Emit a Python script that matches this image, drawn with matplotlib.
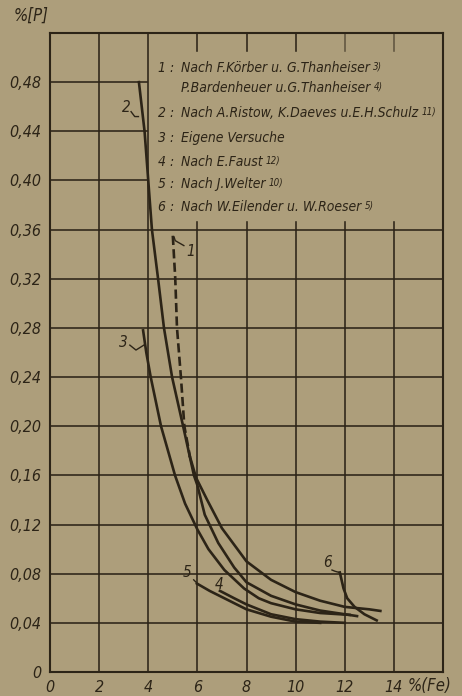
import matplotlib
matplotlib.use("Agg")
import matplotlib.pyplot as plt
from matplotlib import font_manager

# curves: % Fe (x) against % P (y)
c1_fe = [5.0, 5.1, 5.17, 5.33, 5.47, 5.7, 5.95, 6.4, 7.0, 8.0, 9.0, 10.0, 11.0, 12.0, 13.0, 13.45]
c1_p = [0.355, 0.32, 0.28, 0.24, 0.20, 0.175, 0.158, 0.14, 0.117, 0.090, 0.075, 0.065, 0.058, 0.053, 0.051, 0.0497]
c1_dashed_until = 6  # first points drawn dashed, rest solid

c2_fe = [3.62, 3.85, 4.0, 4.15, 4.4, 4.64, 4.97, 5.42, 5.86, 6.0, 6.3, 6.85, 7.5, 8.0, 9.0, 10.0, 11.0, 12.0, 12.5]
c2_p = [0.48, 0.44, 0.40, 0.36, 0.32, 0.28, 0.24, 0.20, 0.16, 0.152, 0.128, 0.105, 0.085, 0.073, 0.062, 0.055, 0.050, 0.047, 0.0455]

c3_fe = [3.79, 3.92, 4.1, 4.52, 5.09, 5.5, 6.0, 6.45, 7.1, 7.9, 8.5, 9.0, 10.0, 11.0, 12.2]
c3_p = [0.278, 0.26, 0.24, 0.20, 0.16, 0.137, 0.116, 0.100, 0.083, 0.068, 0.060, 0.056, 0.051, 0.048, 0.0465]

c4_fe = [6.92, 7.5, 8.0, 9.0, 10.0, 11.0, 12.0]
c4_p = [0.066, 0.060, 0.055, 0.047, 0.043, 0.041, 0.040]

c5_fe = [5.98, 6.5, 7.0, 8.0, 9.0, 10.0, 11.0]
c5_p = [0.072, 0.066, 0.061, 0.051, 0.045, 0.041, 0.040]

c6_fe = [11.8, 11.95, 12.1, 12.4, 12.8, 13.3]
c6_p = [0.081, 0.068, 0.060, 0.053, 0.047, 0.042]

x_ticks = [0, 2, 4, 6, 8, 10, 12, 14]
y_ticks = [0, 0.04, 0.08, 0.12, 0.16, 0.20, 0.24, 0.28, 0.32, 0.36, 0.40, 0.44, 0.48]
y_labels = ["0", "0,04", "0,08", "0,12", "0,16", "0,20", "0,24", "0,28", "0,32", "0,36", "0,40", "0,44", "0,48"]

legend_nums = ["1 :", "", "2 :", "3 :", "4 :", "5 :", "6 :"]
legend_texts = ["Nach F.Körber u. G.Thanheiser", "P.Bardenheuer u.G.Thanheiser",
                "Nach A.Ristow, K.Daeves u.E.H.Schulz", "Eigene Versuche",
                "Nach E.Faust", "Nach J.Welter", "Nach W.Eilender u. W.Roeser"]
legend_refs = ["3)", "4)", "11)", "", "12)", "10)", "5)"]

BG = "#ad9e7b"
INK = "#2c2417"

names = {f.name for f in font_manager.fontManager.ttflist}
if "Liberation Sans Narrow" in names:
    FONT = dict(family="Liberation Sans Narrow", style="italic")
else:
    FONT = dict(family="DejaVu Sans", style="italic", stretch="condensed")

fig = plt.figure(figsize=(4.62, 6.96), dpi=100, facecolor=BG)
ax = fig.add_axes([50 / 462, 24 / 696, 393 / 462, 639 / 696])
ax.set_facecolor(BG)
ax.set_xlim(0, 16)
ax.set_ylim(0, 0.52)

# grid, kept clear of the legend area at upper right
glw = 1.15
for y in y_ticks[1:]:
    if y <= 0.36:
        ax.axhline(y, color=INK, lw=glw, zorder=1)
    else:
        ax.plot([0, 3.95], [y, y], color=INK, lw=glw, zorder=1)
for x in x_ticks[1:]:
    if x <= 4:
        ax.axvline(x, color=INK, lw=glw, zorder=1)
    else:
        ax.plot([x, x], [0, 0.366], color=INK, lw=glw, zorder=1)
        ax.plot([x, x], [0.505, 0.52], color=INK, lw=glw, zorder=1,
                alpha=0.6 if x >= 12 else 1)

for s in ax.spines.values():
    s.set_color(INK)
    s.set_linewidth(1.5)

clw = 1.9
ax.plot(c1_fe[:c1_dashed_until], c1_p[:c1_dashed_until], color=INK, lw=clw,
        dashes=(3.5, 1.6), zorder=3)
ax.plot(c1_fe[c1_dashed_until - 1:], c1_p[c1_dashed_until - 1:], color=INK, lw=clw, zorder=3)
for fe, p in [(c2_fe, c2_p), (c3_fe, c3_p), (c4_fe, c4_p), (c5_fe, c5_p), (c6_fe, c6_p)]:
    ax.plot(fe, p, color=INK, lw=clw, zorder=3)

# curve numbers with little pointers
lab = dict(color=INK, fontsize=11, va="center", ha="center", **FONT)
ax.text(3.1, 0.459, "2", **lab)
ax.plot([3.3, 3.45, 3.6], [0.456, 0.452, 0.452], color=INK, lw=1)
ax.text(5.72, 0.342, "1", **lab)
ax.plot([5.05, 5.1, 5.45], [0.354, 0.351, 0.347], color=INK, lw=1)
ax.text(3.0, 0.268, "3", **lab)
ax.plot([3.25, 3.5, 3.82], [0.266, 0.262, 0.266], color=INK, lw=1)
ax.text(5.6, 0.081, "5", **lab)
ax.plot([5.85, 5.95], [0.075, 0.073], color=INK, lw=1)
ax.text(6.88, 0.0716, "4", **lab)
ax.text(11.28, 0.089, "6", **lab)
ax.plot([11.48, 11.6, 11.78], [0.083, 0.082, 0.081], color=INK, lw=1)

# legend text
leg_y = [0.4916, 0.4753, 0.455, 0.4346, 0.415, 0.397, 0.3785]
for num, txt, ref, y in zip(legend_nums, legend_texts, legend_refs, leg_y):
    if num:
        ax.text(4.40, y, num, color=INK, fontsize=10, va="center", **FONT)
    t = ax.text(5.33, y, txt, color=INK, fontsize=10, va="center", **FONT)
    if ref:
        ax.annotate(ref, xy=(1, 0.95), xycoords=t, xytext=(2.5, 0),
                    textcoords="offset points", color=INK, fontsize=7,
                    va="top", ha="left", **FONT)

ax.set_xticks(x_ticks)
ax.set_xticklabels([str(v) for v in x_ticks])
ax.set_yticks(y_ticks)
ax.set_yticklabels(y_labels)
ax.tick_params(length=0, pad=6, colors=INK, labelsize=11.5)
for lbl in ax.get_xticklabels() + ax.get_yticklabels():
    lbl.set_fontstyle("italic")
    lbl.set_family(FONT["family"])
    if "stretch" in FONT:
        lbl.set_fontstretch(FONT["stretch"])

fig.text(408 / 462, 1 - 686 / 696, "%(Fe)", color=INK, fontsize=12, va="center", ha="left", **FONT)
fig.text(14 / 462, 1 - 16 / 696, "%[P]", color=INK, fontsize=12, va="center", ha="left", **FONT)

fig.savefig("out.png", dpi=100, facecolor=BG)
